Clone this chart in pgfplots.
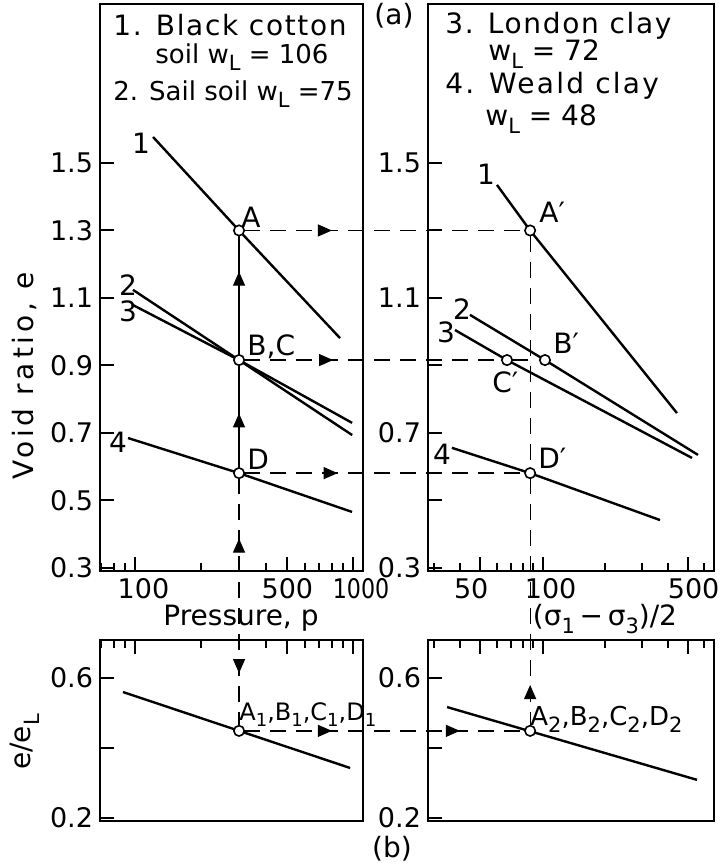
\documentclass[border=0pt]{standalone}
\usepackage{graphicx}
\usepackage{pgfplots}
\pgfplotsset{compat=1.18}
\usepackage{fontspec}
\setmainfont{DejaVu Sans}
\usetikzlibrary{arrows.meta}

\newcommand{\fs}{\fontsize{14}{16}\selectfont}
\newcommand{\sub}[1]{\raisebox{-0.55ex}{\fontsize{10.5}{11}\selectfont #1}}
\newcommand{\ssub}[1]{\raisebox{-0.5ex}{\fontsize{9}{10}\selectfont #1}}

\pgfplotsset{
  panel/.style={
    scale only axis, clip=false,
    axis line style={line width=1.1pt},
    tick align=inside,
    major tick length=7pt, minor tick length=4pt,
    every tick/.style={black, line width=1pt},
    tick label style={font=\fontsize{13.5}{15}\selectfont},
    ytick pos=left,
  },
  crv/.style={black, line width=1.2pt, mark=none},
  pts/.style={only marks, mark=*, mark size=2.6pt,
    mark options={fill=white, draw=black, line width=0.8pt}},
}
\tikzset{
  arr/.style={-{Triangle[length=7pt,width=6pt]}, line width=0.6pt},
  dsh/.style={black, line width=0.8pt, dash pattern=on 8pt off 5pt},
}

\begin{document}
\begin{tikzpicture}
\begin{scope}[x=0.5pt,y=-0.5pt]
  \path[use as bounding box] (0,0) rectangle (724,864);
\end{scope}

% (a) left: void ratio against pressure
\begin{semilogxaxis}[panel, at={(50pt,-285.5pt)}, anchor=south west,
  width=131.5pt, height=283.5pt,
  xmin=69.1, xmax=1111, ymin=0.291, ymax=1.971,
  xtick pos=left, xtick={100,500,1000},
  xticklabels={\hspace*{8.5pt}100,500,\hspace*{8pt}\scalebox{0.82}[1]{1000}},
  minor xtick={70,80,90,200,300,400,600,700,800,900},
  ytick={0.3,0.5,0.7,0.9,1.1,1.3,1.5},
  yticklabels={0.3,0.5,0.7,0.9,1.1,1.3,1.5}]
  \addplot[crv] coordinates {(121,1.577) (300,1.3) (872,0.981)};
  \addplot[crv] coordinates {(97.9,1.124) (300,0.916) (990,0.694)};
  \addplot[crv] coordinates {(97.9,1.079) (300,0.916) (990,0.730)};
  \addplot[crv] coordinates {(92.9,0.685) (300,0.581) (990,0.466)};
  \addplot[pts] coordinates {(300,1.3) (300,0.916) (300,0.581)};
  \coordinate (A) at (axis cs:300,1.3);
  \coordinate (BC) at (axis cs:300,0.916);
  \coordinate (D) at (axis cs:300,0.581);
  \draw[arr] (axis cs:780,1.3) -- (axis cs:800,1.3);
  \draw[arr] (axis cs:790,0.916) -- (axis cs:810,0.916);
  \draw[arr] (axis cs:830,0.581) -- (axis cs:850,0.581);
  \draw[arr] (axis cs:300,1.16) -- (axis cs:300,1.178);
  \draw[arr] (axis cs:300,0.74) -- (axis cs:300,0.758);
  \draw[arr] (axis cs:300,0.37) -- (axis cs:300,0.387);
\end{semilogxaxis}

% (a) right: void ratio against (s1-s3)/2
\begin{semilogxaxis}[panel, at={(214pt,-285.5pt)}, anchor=south west,
  width=143pt, height=283.5pt,
  xmin=28, xmax=670, ymin=0.291, ymax=1.971,
  xtick pos=left, xtick={50,100,500},
  xticklabels={50\hspace*{9pt},\hspace*{8pt}100,\hspace*{6pt}500},
  minor xtick={30,40,60,70,80,90,200,300,400,600},
  ytick={0.3,0.5,0.7,0.9,1.1,1.3,1.5},
  yticklabels={0.3,,0.7,,1.1,,1.5}]
  \addplot[crv] coordinates {(60.2,1.435) (87,1.3) (444,0.759)};
  \addplot[crv] coordinates {(44.6,1.050) (102.6,0.916) (561,0.635)};
  \addplot[crv] coordinates {(37.8,1.005) (67.3,0.916) (525,0.626)};
  \addplot[crv] coordinates {(36.5,0.656) (87,0.581) (368,0.442)};
  \addplot[pts] coordinates {(87,1.3) (102.6,0.916) (67.3,0.916) (87,0.581)};
  \coordinate (Ap) at (axis cs:87,1.3);
  \coordinate (Cp) at (axis cs:67.3,0.916);
  \coordinate (R916) at (axis cs:87,0.916);
  \coordinate (Dp) at (axis cs:87,0.581);
\end{semilogxaxis}

% (b) left
\begin{semilogxaxis}[panel, at={(50pt,-410.5pt)}, anchor=south west,
  width=131.5pt, height=90.5pt,
  xmin=69.1, xmax=1111, ymin=0.1914, ymax=0.7086,
  xtick pos=right, xtick={100,500,1000}, xticklabels={},
  minor xtick={70,80,90,200,300,400,600,700,800,900},
  ytick={0.2,0.4,0.6}, yticklabels={0.2,,0.6}]
  \addplot[crv] coordinates {(88.1,0.56) (969,0.343)};
  \addplot[pts] coordinates {(300,0.449)};
  \coordinate (A1) at (axis cs:300,0.449);
  \draw[arr] (axis cs:300,0.63) -- (axis cs:300,0.614);
  \draw[arr] (axis cs:780,0.449) -- (axis cs:800,0.449);
\end{semilogxaxis}

% (b) right
\begin{semilogxaxis}[panel, at={(214pt,-410.5pt)}, anchor=south west,
  width=143pt, height=90.5pt,
  xmin=28, xmax=670, ymin=0.1914, ymax=0.7086,
  xtick pos=right, xtick={50,100,500}, xticklabels={},
  minor xtick={30,40,60,70,80,90,200,300,400,600},
  ytick={0.2,0.4,0.6}, yticklabels={0.2,,0.6}]
  \addplot[crv] coordinates {(34.6,0.517) (555,0.309)};
  \addplot[pts] coordinates {(87,0.449)};
  \coordinate (A2) at (axis cs:87,0.449);
  \draw[arr] (axis cs:38,0.449) -- (axis cs:39.9,0.449);
  \draw[arr] (axis cs:87,0.565) -- (axis cs:87,0.58);
\end{semilogxaxis}

\begin{scope}[x=0.5pt,y=-0.5pt]
  % construction lines
  \draw[dsh, shorten <=2.6pt, shorten >=2.6pt] (A) -- (Ap);
  \draw[dsh, shorten <=2.6pt, shorten >=2.6pt] (BC) -- (Cp);
  \draw[dsh, shorten <=2.6pt] (Cp) -- (R916);
  \draw[dsh, shorten <=2.6pt, shorten >=2.6pt] (D) -- (Dp);
  \draw[dsh, shorten <=2.6pt, shorten >=2.6pt] (A1) -- (A2);
  \draw[line width=0.6pt, shorten <=2.6pt, shorten >=2.6pt] (A) -- (BC);
  \draw[line width=0.6pt, shorten <=2.6pt, shorten >=2.6pt] (BC) -- (D);
  \draw[dsh, line width=0.6pt, shorten <=2.6pt, shorten >=2.6pt] (D) -- (A1);
  \draw[dsh, line width=0.6pt, shorten <=2.6pt, shorten >=2.6pt] (Ap) -- (Dp);
  \draw[dsh, line width=0.6pt, shorten <=2.6pt, shorten >=2.6pt] (Dp) -- (A2);

  % legends
  \begin{scope}[every node/.style={font=\fs, inner sep=0pt, anchor=base west}]
    \node[font=\fs\addfontfeatures{LetterSpace=6}] at (113,35) {1. Black cotton};
    \node[font=\fontsize{13}{15}\selectfont] at (155,63) {soil w\sub{L} = 106};
    \node[font=\fontsize{13}{15}\selectfont] at (113,100) {2. Sail soil w\sub{L} =75};
    \node[font=\fs\addfontfeatures{LetterSpace=6}] at (445,33) {3. London clay};
    \node at (488,60) {w\sub{L} = 72};
    \node[font=\fs\addfontfeatures{LetterSpace=8}] at (445,93) {4. Weald clay};
    \node at (485,125) {w\sub{L} = 48};
    % point labels
    \node at (241,227) {A};
    \node at (247,355) {B,C};
    \node at (247,469) {D};
    \node at (539,222) {A′};
    \node at (553,353) {B′};
    \node at (492,392) {C′};
    \node at (538,468) {D′};
    \node[font=\fontsize{12}{14}\selectfont] at (239,720)
      {A\ssub{1},B\ssub{1},C\ssub{1},D\ssub{1}};
    \node[font=\fontsize{13}{15}\selectfont] at (530,725)
      {A\sub{2},B\sub{2},C\sub{2},D\sub{2}};
  \end{scope}

  % curve numbers
  \begin{scope}[every node/.style={font=\fs, inner sep=0pt}]
    \node at (141,143) {1};
    \node at (128,285) {2};
    \node at (128,311) {3};
    \node at (118,442) {4};
    \node at (486,174) {1};
    \node at (462,309) {2};
    \node at (446,332) {3};
    \node at (442,454) {4};
    \node at (394,16) {(a)};
    \node at (392,849) {(b)};
  \end{scope}

  % axis titles
  \node[font=\fs\addfontfeatures{LetterSpace=14}, rotate=90] at (24,376) {Void ratio, e};
  \node[font=\fs, rotate=90] at (25,742) {e/e\sub{L}};
  \node[font=\fs, anchor=base] at (241,625) {Pressure, p};
  \node[font=\fs, anchor=base] at (605,625) {(σ\sub{1}\,−\,σ\sub{3})/2};
\end{scope}
\end{tikzpicture}
\end{document}
